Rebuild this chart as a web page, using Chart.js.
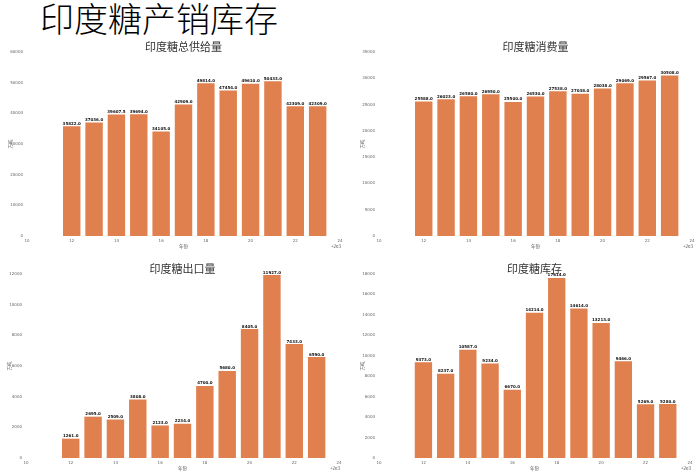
<!DOCTYPE html>
<html>
<head>
<meta charset="utf-8">
<script src="https://cdn.jsdelivr.net/npm/chart.js@4.4.0/dist/chart.umd.min.js"></script>
<style>
  body { margin: 0; background: #fff; }
  #wrap { position: relative; width: 700px; height: 474px; overflow: hidden; }
  #mainTitle { position: absolute; left: 40px; top: -7px; font: 300 34px "Noto Sans CJK SC", sans-serif; color: #000; }
  canvas { position: absolute; }
</style>
</head>
<body>
<div id="wrap">
  <div id="mainTitle">印度糖产销库存</div>
  <canvas id="supplyChart"></canvas>
  <canvas id="consumeChart"></canvas>
  <canvas id="exportChart"></canvas>
  <canvas id="stockChart"></canvas>
</div>
<script>
// --- Data ---
const years = [2012, 2013, 2014, 2015, 2016, 2017, 2018, 2019, 2020, 2021, 2022, 2023];
const supply = [35822.0, 37036.0, 39607.5, 39694.0, 34105.0, 42909.0, 49814.0, 47454.0, 49610.0, 50433.0, 42309.0, 42309.0];
const consumption = [25588.0, 26023.0, 26580.0, 26950.0, 25500.0, 26530.0, 27538.0, 27038.0, 28038.0, 29069.0, 29567.0, 30508.0];
const exportsVol = [1261.0, 2695.0, 2509.0, 3808.0, 2123.0, 2234.0, 4700.0, 5680.0, 8405.0, 11927.0, 7433.0, 6590.0];
const stocks = [9373.0, 8237.0, 10587.0, 9234.0, 6670.0, 14214.0, 17614.0, 14614.0, 13213.0, 9466.0, 5269.0, 5280.0];

const barColor = '#E0804E';
const Y_AXIS_W = 20;
const X_AXIS_H = 8;

// --- Panels (canvas box + plot area in page px) ---
const panels = [
    { id: 'supplyChart', title: '印度糖总供给量', values: supply, yMax: 60000, yStep: 10000,
      box: [0, 36, 350, 218], area: [27, 52, 340, 236], titleY: 47 },
    { id: 'consumeChart', title: '印度糖消费量', values: consumption, yMax: 35000, yStep: 5000,
      box: [350, 36, 350, 218], area: [379, 52, 692, 236], titleY: 47 },
    { id: 'exportChart', title: '印度糖出口量', values: exportsVol, yMax: 12000, yStep: 2000,
      box: [0, 255, 350, 219], area: [26, 274, 339, 458], titleY: 269 },
    { id: 'stockChart', title: '印度糖库存', values: stocks, yMax: 18000, yStep: 2000,
      box: [350, 255, 350, 219], area: [379, 274, 690, 458], titleY: 269 }
];

const annotPlugin = {
    id: 'annot',
    afterDatasetsDraw(chart, args, opts) {
        const ctx = chart.ctx;
        const ca = chart.chartArea;
        // value labels
        ctx.save();
        ctx.font = 'bold 4px "DejaVu Sans", sans-serif';
        ctx.fillStyle = '#111';
        ctx.textAlign = 'center';
        ctx.textBaseline = 'bottom';
        const meta = chart.getDatasetMeta(0);
        meta.data.forEach((bar, i) => {
            ctx.fillText(chart.data.datasets[0].data[i].y.toFixed(1), bar.x, bar.y - 0.5);
        });
        // subplot title
        ctx.font = '11px "Noto Sans CJK SC", sans-serif';
        ctx.fillStyle = '#333';
        ctx.textBaseline = 'middle';
        ctx.fillText(opts.title, (ca.left + ca.right) / 2, opts.titleY);
        // axis labels
        ctx.font = '4.5px "Noto Sans CJK SC", sans-serif';
        ctx.fillStyle = '#555';
        ctx.fillText('年份', (ca.left + ca.right) / 2, ca.bottom + 10);
        ctx.textAlign = 'right';
        ctx.fillText('+2e3', ca.right + 1, ca.bottom + 10);
        ctx.translate(ca.left - 17, (ca.top + ca.bottom) / 2);
        ctx.rotate(-Math.PI / 2);
        ctx.textAlign = 'center';
        ctx.fillText('万吨', 0, 0);
        ctx.restore();
    }
};

panels.forEach(p => {
    const cv = document.getElementById(p.id);
    const [bx, by, bw, bh] = p.box;
    const [l, t, r, b] = p.area;
    cv.style.left = bx + 'px';
    cv.style.top = by + 'px';
    cv.style.width = bw + 'px';
    cv.style.height = bh + 'px';
    cv.width = bw;
    cv.height = bh;

    new Chart(cv.getContext('2d'), {
        type: 'bar',
        data: {
            datasets: [{
                data: years.map((yr, i) => ({ x: yr, y: p.values[i] })),
                backgroundColor: barColor,
                borderWidth: 0,
                barPercentage: 0.78,
                categoryPercentage: 1
            }]
        },
        options: {
            responsive: false,
            animation: false,
            layout: { padding: { left: l - bx - Y_AXIS_W, top: t - by, right: bx + bw - r, bottom: by + bh - b - X_AXIS_H } },
            plugins: {
                legend: { display: false },
                tooltip: { enabled: false },
                annot: { title: p.title, titleY: p.titleY - by }
            },
            scales: {
                x: {
                    type: 'linear',
                    offset: false,
                    min: 2010, max: 2024,
                    grid: { display: false, drawTicks: false },
                    border: { display: false },
                    afterFit: s => { s.height = X_AXIS_H; },
                    ticks: {
                        stepSize: 2,
                        padding: 3,
                        maxRotation: 0,
                        autoSkip: false,
                        color: '#666',
                        font: { size: 4, family: 'DejaVu Sans' },
                        callback: v => String(v - 2000)
                    }
                },
                y: {
                    min: 0, max: p.yMax,
                    grid: { display: false, drawTicks: false },
                    border: { display: false },
                    afterFit: s => { s.width = Y_AXIS_W; },
                    ticks: {
                        stepSize: p.yStep,
                        padding: 4,
                        color: '#666',
                        font: { size: 4, family: 'DejaVu Sans' },
                        callback: v => String(v)
                    }
                }
            }
        },
        plugins: [annotPlugin]
    });
});
</script>
</body>
</html>
